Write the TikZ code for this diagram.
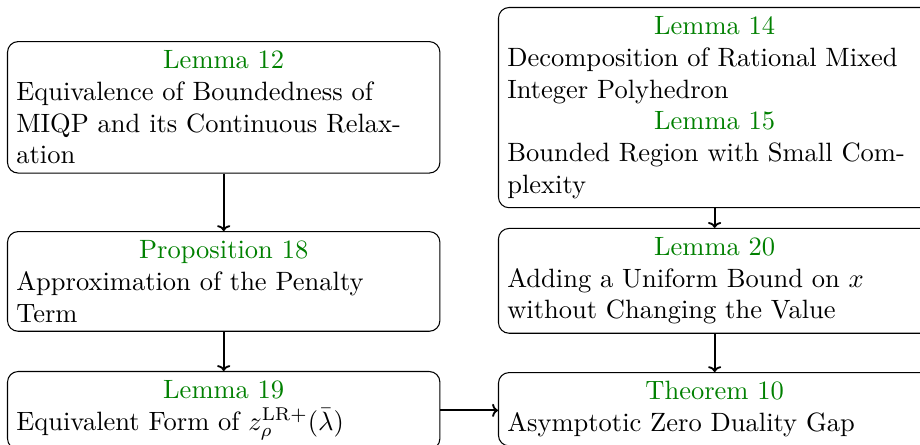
\documentclass[tikz,border=0pt]{standalone}
\usetikzlibrary{arrows.meta}
\definecolor{titlegreen}{rgb}{0,0.5,0}
\newcommand\boxtitle[1]{\makebox[\linewidth][c]{\color{titlegreen}#1}\\}
\tikzset{
  box/.style={draw, line width=0.4pt, rounded corners=4pt, text width=5.5cm,
    align=left, inner sep=0.3333em, anchor=north west},
  arr/.style={-{To[length=2.2pt,width=5pt]}, line width=0.7pt}
}
\begin{document}
\begin{tikzpicture}[x=1pt,y=1pt]
\useasboundingbox (0,0) rectangle (347.17,-167.92);
\node[box] (l12) at (2.64,-15.5) {\boxtitle{Lemma 12}Equivalence of Boundedness of MIQP and its Continuous Relaxation};
\node[box] (p18) at (2.64,-87.2) {\boxtitle{Proposition 18}Approximation of the Penalty Term};
\node[box] (l19) at (2.64,-140.0) {\boxtitle{Lemma 19}Equivalent Form of $z_\rho^{\mathrm{LR}+}(\bar\lambda)$};
\node[box] (l1415) at (187.9,-2.64) {\boxtitle{Lemma 14}Decomposition of Rational Mixed Integer Polyhedron\\\boxtitle{Lemma 15}Bounded Region with Small Complexity};
\node[box] (l20) at (187.9,-86.0) {\boxtitle{Lemma 20}Adding a Uniform Bound on $x$ without Changing the Value};
\node[box] (t10) at (187.9,-140.4) {\boxtitle{Theorem 10}Asymptotic Zero Duality Gap};
\draw[arr] (l12.south) -- (p18.north);
\draw[arr] (p18.south) -- (l19.north);
\draw[arr] (l1415.south) -- (l20.north);
\draw[arr] (l20.south) -- (t10.north);
\draw[arr] (l19.east) -- (l19.east -| t10.west);
\end{tikzpicture}
\end{document}
